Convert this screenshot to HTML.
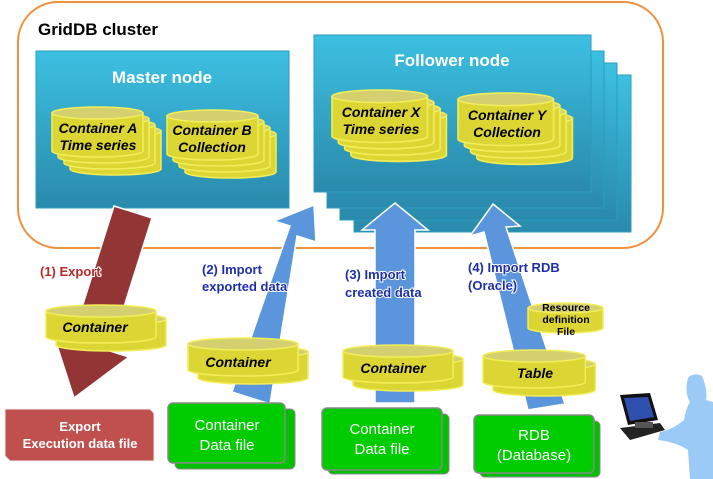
<!DOCTYPE html>
<html><head><meta charset="utf-8"><style>
html,body{margin:0;padding:0;background:#fff;}
svg{display:block;font-family:"Liberation Sans",Arial,sans-serif;}
.cy{fill:#dcd634;stroke:#f2ee5a;stroke-width:1.5}
.ct{fill:#d4d070;stroke:#f2ee5a;stroke-width:1.5}
.lbl{font-weight:bold;font-style:italic;font-size:14px;fill:#000;text-anchor:middle}
.blu{font-weight:bold;font-size:13px;fill:#1e2fa8;stroke:#fff;stroke-width:2;paint-order:stroke}
</style></head><body>
<svg width="713" height="479" viewBox="0 0 713 479" xmlns="http://www.w3.org/2000/svg">
<defs>
<linearGradient id="nd" x1="0" y1="0" x2="0" y2="1"><stop offset="0" stop-color="#3cc0e2"/><stop offset="1" stop-color="#2a8aab"/></linearGradient>
<g id="cylA"><path class="cy" d="M0 6 L0 44 A45.5 6 0 0 0 91 44 L91 6 Z"/><ellipse class="ct" cx="45.5" cy="6" rx="45.5" ry="6"/></g>
<g id="cylM"><path class="cy" d="M0 6 L0 32 A55 6 0 0 0 110 32 L110 6 Z"/><ellipse class="ct" cx="55" cy="6" rx="55" ry="6"/></g>
</defs>
<rect x="18" y="2" width="645" height="246" rx="40" fill="#fff" stroke="#f0913f" stroke-width="2"/>
<text x="38" y="35" font-size="17" font-weight="bold">GridDB cluster</text>
<rect x="36" y="51" width="253" height="157" fill="url(#nd)" stroke="#2a9cc0"/>
<text x="162" y="83" font-size="17" font-weight="bold" fill="#fff" text-anchor="middle">Master node</text>
<use href="#cylA" x="70" y="125"/><use href="#cylA" x="64" y="119"/><use href="#cylA" x="58" y="113"/><use href="#cylA" x="52" y="107"/>
<text class="lbl" x="98" y="133">Container A</text><text class="lbl" x="98" y="150">Time series</text>
<use href="#cylA" x="185" y="128"/><use href="#cylA" x="179" y="122"/><use href="#cylA" x="173" y="116"/><use href="#cylA" x="167" y="110"/>
<text class="lbl" x="212" y="135">Container B</text><text class="lbl" x="212" y="152">Collection</text>
<rect x="354" y="75" width="277" height="157" fill="url(#nd)" stroke="#2a9cc0"/>
<rect x="340" y="63" width="277" height="157" fill="url(#nd)" stroke="#2a9cc0"/>
<rect x="327" y="51" width="277" height="157" fill="url(#nd)" stroke="#2a9cc0"/>
<rect x="314" y="35" width="277" height="157" fill="url(#nd)" stroke="#2a9cc0"/>
<text x="452" y="66" font-size="17" font-weight="bold" fill="#fff" text-anchor="middle">Follower node</text>
<g transform="translate(332,90) scale(1.05,1.05)"><use href="#cylA" x="18" y="18"/><use href="#cylA" x="12" y="12"/><use href="#cylA" x="6" y="6"/><use href="#cylA"/></g>
<text class="lbl" x="381" y="117">Container X</text><text class="lbl" x="381" y="134">Time series</text>
<g transform="translate(458,93) scale(1.05,1.05)"><use href="#cylA" x="18" y="18"/><use href="#cylA" x="12" y="12"/><use href="#cylA" x="6" y="6"/><use href="#cylA"/></g>
<text class="lbl" x="507" y="120">Container Y</text><text class="lbl" x="507" y="137">Collection</text>
<polygon points="114,206 152,218 110,351 129,357 74,398 53,333 72,339" fill="#943535" stroke="#fff" stroke-width="1.5"/>
<polygon points="232,392 270,404 297,236 316,242 314,205 274,221 290,226" fill="#5b96dc" stroke="#fff" stroke-width="1.5"/>
<polygon points="375,403 415,403 415,230 428,230 395,203 362,230 375,230" fill="#5b96dc" stroke="#fff" stroke-width="1.5"/>
<polygon points="565,404 528,410 484,232 470,236 493,204 520,226 506,227" fill="#5b96dc" stroke="#fff" stroke-width="1.5"/>
<text x="40" y="276" font-size="13" font-weight="bold" fill="#b82a2a" stroke="#fff" stroke-width="2" paint-order="stroke">(1) Export</text>
<text class="blu" x="202" y="274">(2) Import</text><text class="blu" x="202" y="291">exported data</text>
<text class="blu" x="345" y="279">(3) Import</text><text class="blu" x="345" y="297">created data</text>
<text class="blu" x="468" y="272">(4) Import RDB</text><text class="blu" x="468" y="290">(Oracle)</text>
<use href="#cylM" x="56" y="313"/><use href="#cylM" x="46" y="305"/>
<text class="lbl" x="95" y="332">Container</text>
<use href="#cylM" x="198" y="346"/><use href="#cylM" x="188" y="338"/>
<text class="lbl" x="238" y="367">Container</text>
<use href="#cylM" x="353" y="353"/><use href="#cylM" x="343" y="345"/>
<text class="lbl" x="393" y="373">Container</text>
<g transform="translate(493,358) scale(0.93,1)"><use href="#cylM"/></g><g transform="translate(483,350) scale(0.93,1)"><use href="#cylM"/></g>
<text class="lbl" x="535" y="378">Table</text>
<path class="cy" d="M528 308 L528 328 A37.5 5 0 0 0 603 328 L603 308 Z"/><ellipse class="ct" cx="565.5" cy="308" rx="37.5" ry="5"/>
<text x="566" y="311" font-size="10.5" font-weight="bold" text-anchor="middle">Resource</text>
<text x="566" y="323" font-size="10.5" font-weight="bold" text-anchor="middle">definition</text>
<text x="566" y="335" font-size="10.5" font-weight="bold" text-anchor="middle">File</text>
<polygon points="5,409 150,409 154,413 154,461 10,461 5,456" fill="#c0504d" stroke="#eee"/>
<text x="80" y="431" font-size="13" font-weight="bold" fill="#fff" text-anchor="middle">Export</text>
<text x="80" y="448" font-size="13" font-weight="bold" fill="#fff" text-anchor="middle">Execution data file</text>
<rect x="175" y="409" width="120" height="60" rx="5" fill="#00c000" stroke="#888"/>
<rect x="168" y="403" width="117" height="60" rx="5" fill="#00cc00" stroke="#888" stroke-width="1.5"/>
<text x="227" y="430" font-size="15" fill="#fff" text-anchor="middle">Container</text>
<text x="227" y="450" font-size="15" fill="#fff" text-anchor="middle">Data file</text>
<rect x="328" y="414" width="121" height="60" rx="5" fill="#00c000" stroke="#888"/>
<rect x="322" y="408" width="120" height="62" rx="5" fill="#00cc00" stroke="#888" stroke-width="1.5"/>
<text x="382" y="434" font-size="15" fill="#fff" text-anchor="middle">Container</text>
<text x="382" y="454" font-size="15" fill="#fff" text-anchor="middle">Data file</text>
<rect x="480" y="421" width="120" height="56" rx="5" fill="#00c000" stroke="#888"/>
<rect x="474" y="415" width="120" height="58" rx="5" fill="#00cc00" stroke="#888" stroke-width="1.5"/>
<text x="534" y="440" font-size="15" fill="#fff" text-anchor="middle">RDB</text>
<text x="534" y="460" font-size="15" fill="#fff" text-anchor="middle">(Database)</text>
<path d="M688 378 Q693 372 702 376 Q708 390 706 400 L713 402 L713 479 L690 479 L688 450 Q676 442 658 440 L660 432 Q672 430 684 420 Q686 408 690 402 Q684 392 688 378 Z" fill="#9ccaf6"/>
<polygon points="620,395 650,393 658,420 628,425" fill="#111"/>
<polygon points="624,398 648,397 654,417 630,421" fill="#3050b0"/>
<polygon points="620,428 660,423 665,430 630,440" fill="#222"/>
<rect x="635" y="422" width="18" height="6" fill="#555"/>
</svg>
</body></html>
